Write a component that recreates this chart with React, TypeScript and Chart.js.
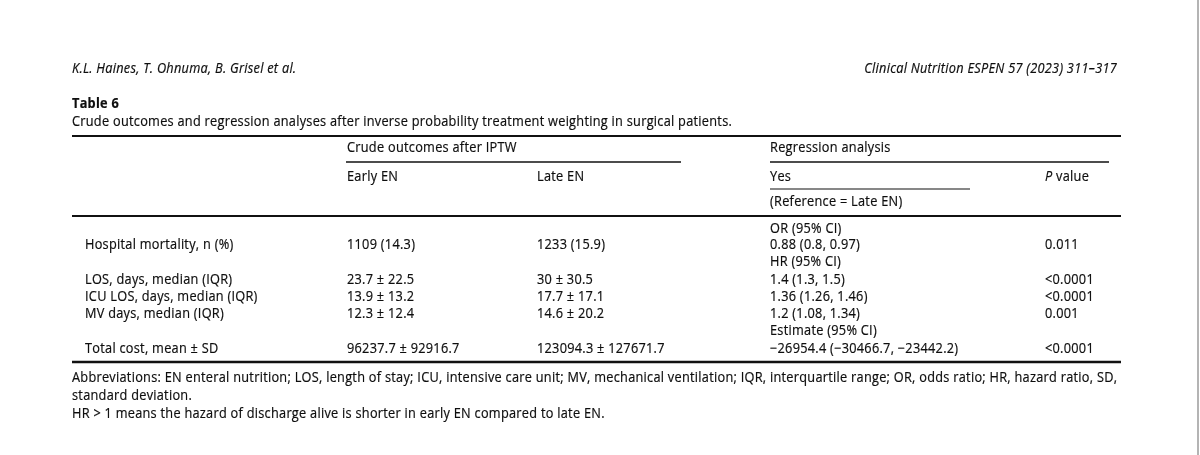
import React, { useEffect, useRef } from "react";
import { Chart, registerables } from "chart.js";
Chart.register(...registerables);

// ---- Data ----
const runningLeft = "K.L. Haines, T. Ohnuma, B. Grisel et al.";
const runningRight = "Clinical Nutrition ESPEN 57 (2023) 311\u2013317";
const tableTitle = "Table 6";
const tableCaption =
  "Crude outcomes and regression analyses after inverse probability treatment weighting in surgical patients.";
const groupHeaders = ["Crude outcomes after IPTW", "Regression analysis"];
const columnHeaders = ["Early EN", "Late EN", "Yes", "P value"];
const referenceNote = "(Reference = Late EN)";
const rowLabels = [
  "Hospital mortality, n (%)",
  "LOS, days, median (IQR)",
  "ICU LOS, days, median (IQR)",
  "MV days, median (IQR)",
  "Total cost, mean \u00b1 SD",
];
const earlyEN = ["1109 (14.3)", "23.7 \u00b1 22.5", "13.9 \u00b1 13.2", "12.3 \u00b1 12.4", "96237.7 \u00b1 92916.7"];
const lateEN = ["1233 (15.9)", "30 \u00b1 30.5", "17.7 \u00b1 17.1", "14.6 \u00b1 20.2", "123094.3 \u00b1 127671.7"];
const regression = [
  "0.88 (0.8, 0.97)",
  "1.4 (1.3, 1.5)",
  "1.36 (1.26, 1.46)",
  "1.2 (1.08, 1.34)",
  "\u221226954.4 (\u221230466.7, \u221223442.2)",
];
const pValues = ["0.011", "<0.0001", "<0.0001", "0.001", "<0.0001"];
const effectLabels = ["OR (95% CI)", "HR (95% CI)", "Estimate (95% CI)"];
const footnotes = [
  "Abbreviations: EN enteral nutrition; LOS, length of stay; ICU, intensive care unit; MV, mechanical ventilation; IQR, interquartile range; OR, odds ratio; HR, hazard ratio, SD,",
  "standard deviation.",
  "HR > 1 means the hazard of discharge alive is shorter in early EN compared to late EN.",
];

// ---- Layout (positions in page units) ----
const W = 1200;
const H = 455;
const colX = [85, 347, 537, 770, 1045];
const rowY = [245, 280, 297, 314, 349];
const effectY = [229, 262, 331];
const FONT = "'Open Sans', sans-serif";
const FS = 14;
const SX = 0.91; // horizontal compression of glyphs
const SPACING = "0.3px";

const rules = [
  { x0: 72, x1: 1121, y: 136, w: 2 },
  { x0: 346, x1: 681, y: 162, w: 1.6 },
  { x0: 770, x1: 1109, y: 162, w: 1.6 },
  { x0: 770, x1: 970, y: 189, w: 1.2 },
  { x0: 72, x1: 1121, y: 216, w: 2 },
  { x0: 72, x1: 1121, y: 362, w: 2.4 },
];

type TextItem = { t: string; x: number; y: number; style?: string; align?: CanvasTextAlign };

function buildTexts(): TextItem[] {
  const items: TextItem[] = [];
  items.push({ t: runningLeft, x: 72, y: 69, style: "italic" });
  items.push({ t: runningRight, x: 1117, y: 69, style: "italic", align: "right" });
  items.push({ t: tableTitle, x: 72, y: 104, style: "bold" });
  items.push({ t: tableCaption, x: 72, y: 122 });
  items.push({ t: groupHeaders[0], x: colX[1], y: 148 });
  items.push({ t: groupHeaders[1], x: colX[3], y: 148 });
  items.push({ t: columnHeaders[0], x: colX[1], y: 177 });
  items.push({ t: columnHeaders[1], x: colX[2], y: 177 });
  items.push({ t: columnHeaders[2], x: colX[3], y: 177 });
  items.push({ t: referenceNote, x: colX[3], y: 202 });
  effectLabels.forEach((t, i) => items.push({ t, x: colX[3], y: effectY[i] }));
  rowLabels.forEach((t, i) => {
    items.push({ t, x: colX[0], y: rowY[i] });
    items.push({ t: earlyEN[i], x: colX[1], y: rowY[i] });
    items.push({ t: lateEN[i], x: colX[2], y: rowY[i] });
    items.push({ t: regression[i], x: colX[3], y: rowY[i] });
    items.push({ t: pValues[i], x: colX[4], y: rowY[i] });
  });
  footnotes.forEach((t, i) => items.push({ t, x: 72, y: 378 + i * 18 }));
  return items;
}

const textPlugin = {
  id: "tableText",
  afterDatasetsDraw(chart: any) {
    const { ctx, scales } = chart;
    const sx = scales.x;
    const sy = scales.y;
    ctx.save();
    ctx.fillStyle = "#0e0e0e";
    ctx.strokeStyle = "#0e0e0e";
    ctx.lineWidth = 0.2;
    ctx.textBaseline = "middle";
    try {
      (ctx as any).letterSpacing = SPACING;
    } catch (e) {
      /* ignore */
    }
    const put = (t: string, x: number) => {
      ctx.fillText(t, x, 0);
      ctx.strokeText(t, x, 0);
    };
    const draw = (it: TextItem) => {
      const px = sx.getPixelForValue(it.x);
      const py = sy.getPixelForValue(it.y);
      ctx.font = `${it.style ? it.style + " " : ""}${FS}px ${FONT}`;
      const wdt = ctx.measureText(it.t).width * SX;
      const align = it.align || "left";
      const left = align === "right" ? px - wdt : px;
      ctx.save();
      ctx.translate(left, py);
      ctx.scale(SX, 1);
      ctx.textAlign = "left";
      put(it.t, 0);
      ctx.restore();
    };
    buildTexts().forEach(draw);
    // "P value" with italic P
    {
      const px = sx.getPixelForValue(colX[4]);
      const py = sy.getPixelForValue(177);
      ctx.save();
      ctx.translate(px, py);
      ctx.scale(SX, 1);
      ctx.font = `italic ${FS}px ${FONT}`;
      put("P", 0);
      const pw = ctx.measureText("P ").width;
      ctx.font = `${FS}px ${FONT}`;
      put("value", pw);
      ctx.restore();
    }
    ctx.restore();
  },
};

const borderPlugin = {
  id: "pageEdge",
  afterDraw(chart: any) {
    const { ctx, scales } = chart;
    const x = scales.x.getPixelForValue(1198);
    ctx.save();
    ctx.strokeStyle = "#b4b4b4";
    ctx.lineWidth = 2;
    ctx.beginPath();
    ctx.moveTo(x, scales.y.getPixelForValue(0));
    ctx.lineTo(x, scales.y.getPixelForValue(H));
    ctx.stroke();
    ctx.restore();
  },
};

const bgPlugin = {
  id: "bg",
  beforeDraw(chart: any) {
    const { ctx } = chart;
    ctx.save();
    ctx.fillStyle = "#ffffff";
    ctx.fillRect(0, 0, chart.width, chart.height);
    ctx.restore();
  },
};

export default function App() {
  const ref = useRef<HTMLCanvasElement | null>(null);
  useEffect(() => {
    document.body.style.margin = "0";
    const canvas = ref.current;
    if (!canvas) return;
    const chart = new Chart(canvas, {
      type: "scatter",
      data: {
        datasets: rules.map((r) => ({
          data: [
            { x: r.x0, y: r.y },
            { x: r.x1, y: r.y },
          ],
          showLine: true,
          borderColor: "#111111",
          borderWidth: r.w,
          pointRadius: 0,
          pointHoverRadius: 0,
        })),
      },
      options: {
        animation: false,
        responsive: false,
        maintainAspectRatio: false,
        devicePixelRatio: 1,
        layout: { padding: 0 },
        events: [],
        plugins: { legend: { display: false }, tooltip: { enabled: false } },
        scales: {
          x: { type: "linear", min: 0, max: W, display: false },
          y: { type: "linear", min: 0, max: H, reverse: true, display: false },
        },
      },
      plugins: [bgPlugin, textPlugin, borderPlugin],
    } as any);
    return () => chart.destroy();
  }, []);
  return (
    <div style={{ width: W, height: H, background: "#fff" }}>
      <canvas ref={ref} width={W} height={H} style={{ display: "block", width: W, height: H }} />
    </div>
  );
}
